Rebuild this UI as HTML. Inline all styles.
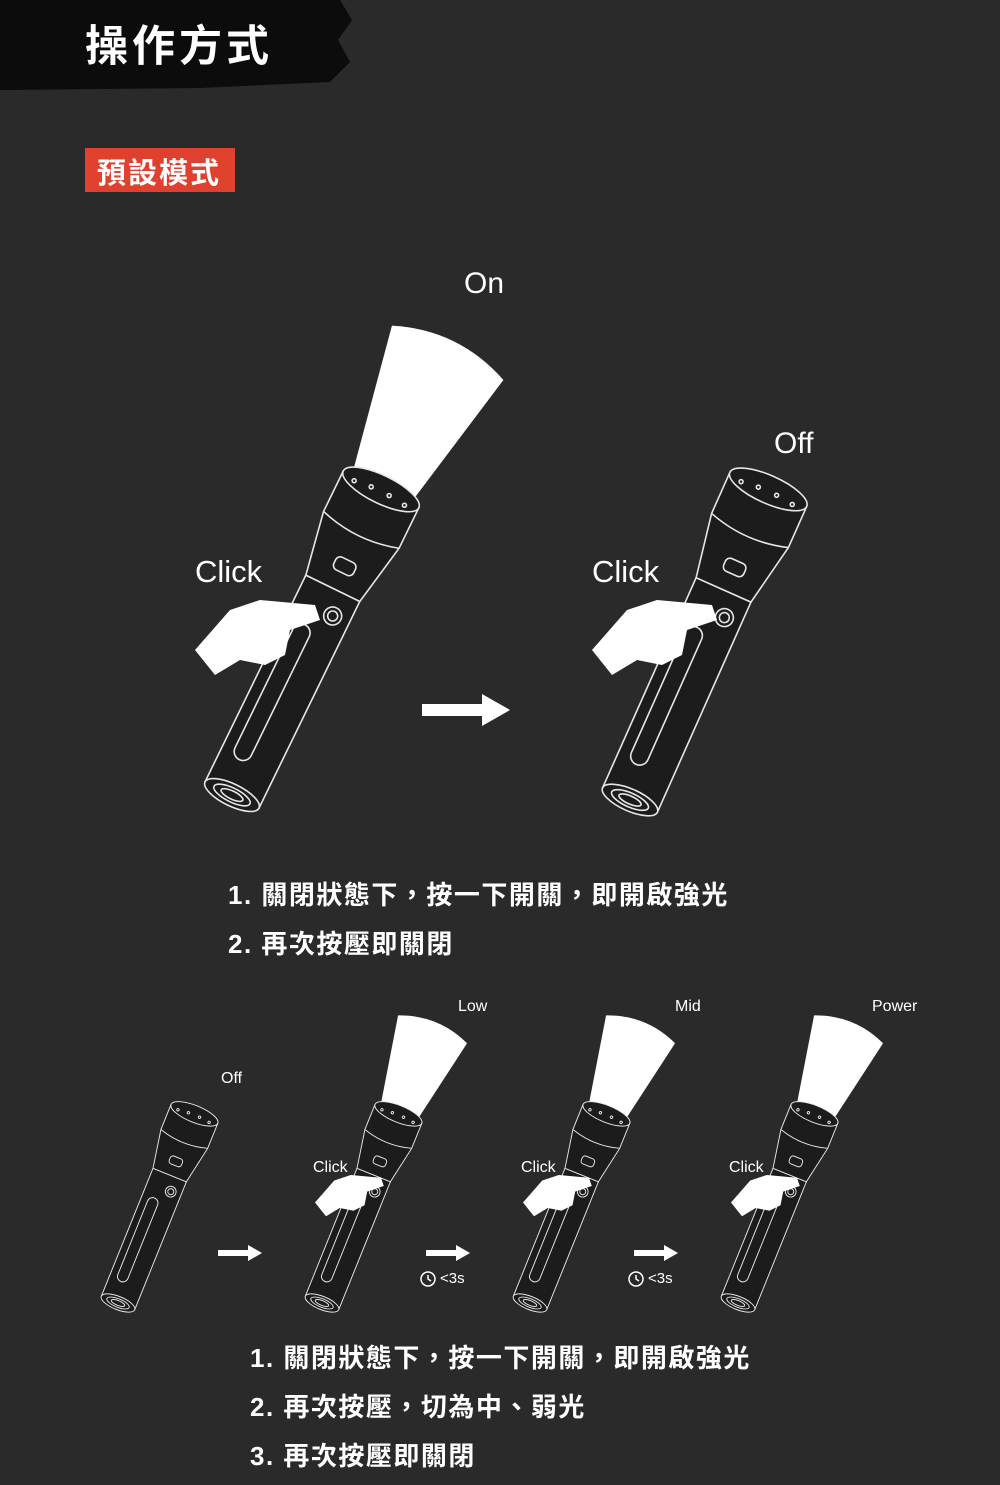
<!DOCTYPE html>
<html><head><meta charset="utf-8"><style>
html,body{margin:0;padding:0}
body{width:1000px;height:1485px;background:#2a2a2a;position:relative;overflow:hidden;font-family:"Liberation Sans","Noto Sans CJK TC",sans-serif;color:#fff}
.t{position:absolute;white-space:nowrap}
.cjk{font-family:"Liberation Sans","Noto Sans CJK TC",sans-serif;font-weight:700}
.l{font-size:26px;letter-spacing:1.5px}
</style></head><body>
<svg width="1000" height="1485" style="position:absolute;left:0;top:0">
<defs>
<g id="fl" fill="#1c1c1c" stroke="#e6e6e6" stroke-width="1.6">
<path d="M-30,-230 L-30,0 L30,0 L30,-230 Z"/>
<ellipse cx="0" cy="0" rx="30" ry="11"/>
<ellipse cx="0" cy="0" rx="20" ry="7"/>
<ellipse cx="0" cy="0" rx="12" ry="4"/>
<path d="M-30,-230 L-42,-295 L-42,-340 L42,-340 L42,-295 L30,-230 Z"/>
<path d="M-42,-295 Q0,-282 42,-295" fill="none"/>
<ellipse cx="0" cy="-340" rx="42" ry="14"/>
<rect x="-18" y="-185" width="18" height="150" rx="9"/>
<rect x="-10" y="-262" width="22" height="14" rx="5"/>
<circle cx="12" cy="-205" r="9"/>
<circle cx="12" cy="-205" r="5"/>
<circle cx="-28" cy="-336" r="2"/><circle cx="-10" cy="-338" r="2"/><circle cx="10" cy="-338" r="2"/><circle cx="28" cy="-336" r="2"/>
</g>
<path id="beam" d="M-34,-348 L-62,-492 Q0,-518 62,-492 L34,-348 Z" fill="#fff"/>
<path id="hand" d="M0,50 L35,10 L65,0 L120,5 L125,20 L95,30 L90,55 L70,65 L45,60 L20,75 Z" fill="#fff"/>
<path id="arr" d="M0,-6 L60,-6 L60,-16 L88,0 L60,16 L60,6 L0,6 Z" fill="#fff"/>
</defs>
<path d="M0,0 L340,0 L352,20 L338,40 L350,62 L330,82 L200,88 L0,90 Z" fill="#0c0c0c"/>
<rect x="85" y="148" width="150" height="44" fill="#e0412f"/>

<g transform="translate(232,795) rotate(26)"><use href="#beam"/><use href="#fl"/></g>
<use href="#hand" transform="translate(195,600)"/>
<g transform="translate(630,800) rotate(24)"><use href="#fl"/></g>
<use href="#hand" transform="translate(592,600)"/>
<use href="#arr" transform="translate(422,710)"/>

<g transform="translate(118,1303) rotate(22) scale(0.6)"><use href="#fl"/></g>
<g transform="translate(322,1303) rotate(22) scale(0.6)"><use href="#beam"/><use href="#fl"/></g>
<g transform="translate(530,1303) rotate(22) scale(0.6)"><use href="#beam"/><use href="#fl"/></g>
<g transform="translate(738,1303) rotate(22) scale(0.6)"><use href="#beam"/><use href="#fl"/></g>
<use href="#hand" transform="translate(315,1175) scale(0.55)"/>
<use href="#hand" transform="translate(523,1175) scale(0.55)"/>
<use href="#hand" transform="translate(731,1175) scale(0.55)"/>
<use href="#arr" transform="translate(218,1253) scale(0.5)"/>
<use href="#arr" transform="translate(426,1253) scale(0.5)"/>
<use href="#arr" transform="translate(634,1253) scale(0.5)"/>
<g fill="none" stroke="#fff" stroke-width="1.5">
<circle cx="428" cy="1279" r="7"/><path d="M428,1275 L428,1279 L431,1281"/>
<circle cx="636" cy="1279" r="7"/><path d="M636,1275 L636,1279 L639,1281"/>
</g>
</svg>

<div class="t cjk" style="left:85px;top:12px;font-size:43px;letter-spacing:4px">操作方式</div>
<div class="t cjk" style="left:97px;top:150px;font-size:29px;letter-spacing:2px">預設模式</div>
<div class="t" style="left:464px;top:267px;font-size:30px">On</div>
<div class="t" style="left:774px;top:427px;font-size:30px">Off</div>
<div class="t" style="left:195px;top:554px;font-size:31px">Click</div>
<div class="t" style="left:592px;top:554px;font-size:31px">Click</div>
<div class="t cjk l" style="left:228px;top:875px">1. 關閉狀態下，按一下開關，即開啟強光</div>
<div class="t cjk l" style="left:228px;top:924px">2. 再次按壓即關閉</div>
<div class="t" style="left:458px;top:998px;font-size:16px">Low</div>
<div class="t" style="left:675px;top:998px;font-size:16px">Mid</div>
<div class="t" style="left:872px;top:998px;font-size:16px">Power</div>
<div class="t" style="left:221px;top:1070px;font-size:16px">Off</div>
<div class="t" style="left:313px;top:1159px;font-size:16px">Click</div>
<div class="t" style="left:521px;top:1159px;font-size:16px">Click</div>
<div class="t" style="left:729px;top:1159px;font-size:16px">Click</div>
<div class="t" style="left:440px;top:1270px;font-size:15px">&lt;3s</div>
<div class="t" style="left:648px;top:1270px;font-size:15px">&lt;3s</div>
<div class="t cjk l" style="left:250px;top:1338px">1. 關閉狀態下，按一下開關，即開啟強光</div>
<div class="t cjk l" style="left:250px;top:1387px">2. 再次按壓，切為中、弱光</div>
<div class="t cjk l" style="left:250px;top:1436px">3. 再次按壓即關閉</div>
</body></html>
